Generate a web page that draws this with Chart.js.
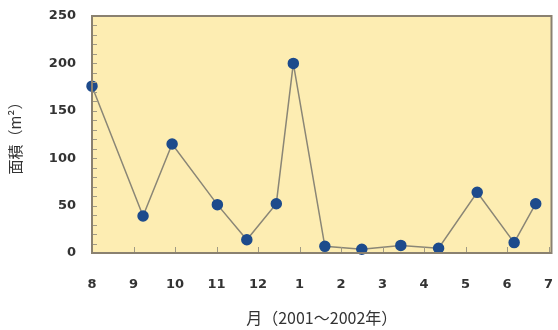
<!DOCTYPE html>
<html>
<head>
<meta charset="utf-8">
<script src="https://cdn.jsdelivr.net/npm/chart.js@4/dist/chart.umd.min.js"></script>
<style>
  html, body { margin: 0; padding: 0; background: #fff; }
  #wrap { width: 558px; height: 330px; }
</style>
</head>
<body>
<div id="wrap"><canvas id="canvas" width="558" height="330"></canvas></div>
<script>
// month labels, one per month start (position 0 = Aug 2001)
const monthLabels = ["8", "9", "10", "11", "12", "1", "2", "3", "4", "5", "6", "7"];

// observation time in months from Aug 2001, and area (m2)
const obsMonth = [0, 1.23, 1.93, 3.02, 3.73, 4.44, 4.85, 5.61, 6.5, 7.44, 8.35, 9.28, 10.17, 10.69];
const obsArea  = [176, 39, 115, 51, 14, 52, 200, 7, 4, 8, 5, 64, 11, 52];

const yTicks = [0, 50, 100, 150, 200, 250];

const points = obsMonth.map((m, i) => ({ x: m, y: obsArea[i] }));

// plot background, frame and inside tick marks
const framePlugin = {
  id: "frame",
  beforeDraw(chart) {
    const a = chart.chartArea;
    const ctx = chart.ctx;
    ctx.save();
    ctx.fillStyle = "#fdedb2";
    ctx.fillRect(a.left, a.top, a.right - a.left, a.bottom - a.top);
    ctx.restore();
  },
  afterDatasetsDraw(chart) {
    const a = chart.chartArea;
    const ctx = chart.ctx;
    const x = chart.scales.x, y = chart.scales.y;
    ctx.save();
    ctx.strokeStyle = "#a09a84";
    ctx.lineWidth = 1;
    for (let v = 0; v <= 250; v += 10) {
      const py = Math.round(y.getPixelForValue(v)) + 0.5;
      ctx.beginPath();
      ctx.moveTo(a.left, py);
      ctx.lineTo(a.left + 5, py);
      ctx.stroke();
    }
    for (let m = 1; m < monthLabels.length; m++) {
      const px = Math.round(x.getPixelForValue(m)) + 0.5;
      ctx.beginPath();
      ctx.moveTo(px, a.bottom);
      ctx.lineTo(px, a.bottom - 6);
      ctx.stroke();
    }
    ctx.strokeStyle = "#8a8170";
    ctx.lineWidth = 2;
    ctx.strokeRect(a.left, a.top, a.right - a.left, a.bottom - a.top);
    ctx.restore();
  }
};

const ctx = document.getElementById("canvas").getContext("2d");

new Chart(ctx, {
  type: "line",
  data: {
    datasets: [{
      data: points,
      borderColor: "#8a8676",
      borderWidth: 1.5,
      pointBackgroundColor: "#1d4b8c",
      pointBorderColor: "#1d4b8c",
      pointRadius: 5,
      tension: 0,
      fill: false,
      clip: false
    }]
  },
  options: {
    responsive: false,
    animation: false,
    layout: { padding: { left: 0, right: 3, top: 16, bottom: 0 } },
    plugins: { legend: { display: false }, tooltip: { enabled: false } },
    scales: {
      x: {
        type: "linear",
        min: 0,
        max: 11.07,
        afterFit: s => { s.height = 77; s.paddingLeft = 0; s.paddingRight = 0; },
        afterBuildTicks: s => { s.ticks = monthLabels.map((_, i) => ({ value: i })); },
        grid: { display: false },
        border: { display: false },
        ticks: {
          padding: 16,
          color: "#333",
          font: { family: "DejaVu Sans", size: 13, weight: "bold" },
          maxRotation: 0,
          autoSkip: false,
          callback: v => monthLabels[v]
        },
        title: {
          display: true,
          text: "月（2001～2002年）",
          color: "#333",
          font: { family: "Noto Sans CJK JP", size: 16 },
          padding: { top: 0, bottom: 2 }
        }
      },
      y: {
        min: 0,
        max: 250,
        afterFit: s => { s.width = 92; s.paddingTop = 0; s.paddingBottom = 0; },
        afterBuildTicks: s => { s.ticks = yTicks.map(v => ({ value: v })); },
        grid: { display: false },
        border: { display: false },
        ticks: {
          padding: 8,
          color: "#333",
          font: { family: "DejaVu Sans", size: 13, weight: "bold" }
        },
        title: {
          display: true,
          text: "面積（m²）",
          color: "#333",
          font: { family: "Noto Sans CJK JP", size: 15 },
          padding: { top: 6, bottom: 0 }
        }
      }
    }
  },
  plugins: [framePlugin]
});
</script>
</body>
</html>
